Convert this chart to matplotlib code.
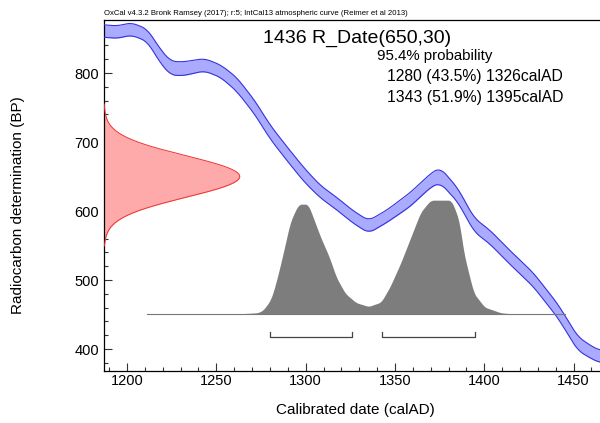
import numpy as np
import matplotlib
matplotlib.use("Agg")
import matplotlib.pyplot as plt
from matplotlib.ticker import MultipleLocator

plt.rcParams["font.family"] = ["Liberation Sans", "DejaVu Sans"]

# IntCal13 curve (centre, BP).
curve_year = [1187, 1194, 1202, 1211, 1218, 1224, 1231, 1243, 1252, 1261,
              1271, 1280, 1289, 1299, 1308, 1317, 1326, 1335, 1345, 1358,
              1370, 1375, 1385, 1394, 1403, 1414, 1427, 1438, 1442, 1452,
              1461, 1465]
curve_bp = [861, 859, 864, 855, 826, 807, 806, 812, 803, 784,
            751, 714, 684, 652, 628, 611, 592, 577, 592, 616,
            645, 652, 623, 580, 562, 533, 501, 465, 451, 408,
            393, 389]
curve_sigma = [9, 9, 9, 9, 10, 10, 10, 9, 9, 10,
               10, 10, 10, 10, 9, 9, 9, 9, 9, 10,
               10, 11, 10, 10, 10, 10, 10, 10, 10, 10,
               9, 9]

# Radiocarbon measurement.
r_mean = 650
r_sigma = 30

# Calibrated probability (relative).
dens_year = [1211, 1260, 1267, 1273, 1276, 1280, 1282, 1285, 1288, 1291,
             1294, 1296, 1301, 1303, 1308, 1313, 1317, 1322, 1328, 1335,
             1342, 1347, 1353, 1358, 1364, 1368, 1370, 1381, 1383, 1386,
             1388, 1391, 1394, 1400, 1409, 1416, 1445]
dens_prob = [0, 0, 0.006, 0.011, 0.035, 0.12, 0.21, 0.39, 0.59, 0.80,
             0.91, 0.965, 0.965, 0.89, 0.68, 0.50, 0.32, 0.18, 0.10, 0.066,
             0.105, 0.24, 0.45, 0.65, 0.89, 0.97, 1.0, 1.0, 0.94, 0.80,
             0.56, 0.36, 0.18, 0.06, 0.011, 0, 0]

# 95.4% ranges
range_start = [1280, 1343]
range_end = [1326, 1395]
range_pct = [43.5, 51.9]

xlim = (1187.1, 1464.8)
ylim = (368.1, 876.8)


def smooth(x, y, step=0.5, win=7.0):
    # resample on a fine grid and run a short moving average (display only)
    xs = np.arange(x[0], x[-1] + step / 2, step)
    ys = np.interp(xs, x, y)
    n = max(1, int(win / step))
    k = np.ones(n) / n
    pad = np.concatenate([np.full(n, ys[0]), ys, np.full(n, ys[-1])])
    ys = np.convolve(pad, k, mode="same")[n:-n]
    return xs, ys


fig = plt.figure(figsize=(6.0, 4.23), dpi=100)
ax = fig.add_axes([0.1733, 0.1229, 0.8267, 0.8298])

# Calibration curve band.
cy, cb = smooth(curve_year, curve_bp)
_, cs = smooth(curve_year, curve_sigma)
ax.fill_between(cy, cb - cs, cb + cs, color="#aaaaff", lw=0, zorder=2)
ax.plot(cy, cb + cs, color="#3333dd", lw=0.8, zorder=3)
ax.plot(cy, cb - cs, color="#3333dd", lw=0.8, zorder=3)

# Radiocarbon date on y axis.
bp = np.linspace(r_mean - 3.35 * r_sigma, r_mean + 3.5 * r_sigma, 200)
pdf = np.exp(-0.5 * ((bp - r_mean) / r_sigma) ** 2)
red_w = 76.0
ax.fill_betweenx(bp, xlim[0], xlim[0] + red_w * pdf, color="#ffaaaa",
                 lw=0, zorder=2)
ax.plot(xlim[0] + red_w * pdf, bp, color="#ee3333", lw=0.7, zorder=3)

# Calibrated distribution.
base = 450.7
height = 165.0
dy, dp = smooth(dens_year, dens_prob, win=3.0)
ax.fill_between(dy, base, base + height * dp, color="#7d7d7d", lw=0,
                zorder=4)
ax.plot([dens_year[0], dens_year[-1]], [base, base], color="#777777",
        lw=0.8, zorder=5)

# Range brackets.
for s, e in zip(range_start, range_end):
    ax.plot([s, s, e, e], [base - 26, base - 34, base - 34, base - 26],
            color="#444444", lw=0.9, zorder=5)

ax.set_xlim(*xlim)
ax.set_ylim(*ylim)
ax.xaxis.set_major_locator(MultipleLocator(50))
ax.xaxis.set_minor_locator(MultipleLocator(10))
ax.yaxis.set_major_locator(MultipleLocator(100))
ax.yaxis.set_minor_locator(MultipleLocator(20))
ax.tick_params(which="both", direction="in", labelsize=10.5, width=0.8,
               color="#333333")
ax.tick_params(which="major", length=6)
ax.tick_params(which="minor", length=3)
ax.tick_params(axis="x", pad=2)
ax.tick_params(axis="y", pad=3.5)
ax.spines["right"].set_visible(False)
for side in ("left", "bottom", "top"):
    ax.spines[side].set_linewidth(0.9)

fig.text(0.592, 0.031, "Calibrated date (calAD)", fontsize=11,
         ha="center", va="center")
fig.text(0.03, 0.515, "Radiocarbon determination (BP)", fontsize=11,
         ha="center", va="center", rotation=90)

fig.text(0.1733, 0.967,
         "OxCal v4.3.2 Bronk Ramsey (2017); r:5; IntCal13 atmospheric curve "
         "(Reimer et al 2013)", fontsize=5.6, ha="left", va="center")
fig.text(0.4378, 0.910, "1436 R_Date(%d,%d)" % (r_mean, r_sigma),
         fontsize=14, ha="left", va="center")
fig.text(0.628, 0.8676, "95.4% probability", fontsize=10.8, ha="left",
         va="center")
for i, (s, e, p) in enumerate(zip(range_start, range_end, range_pct)):
    fig.text(0.6455, 0.8187 - i * 0.0487,
             "%d (%.1f%%) %dcalAD" % (s, p, e), fontsize=11.3, ha="left",
             va="center")

fig.savefig("out.png", dpi=100)
